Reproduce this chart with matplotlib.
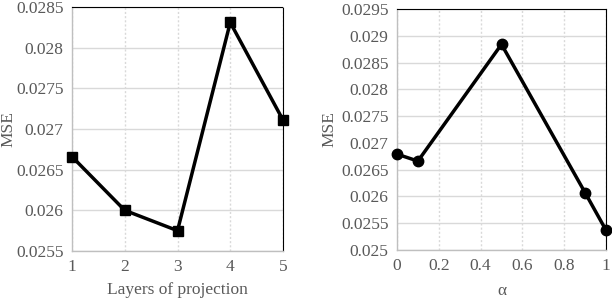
import matplotlib
matplotlib.use("Agg")
import matplotlib.pyplot as plt
from matplotlib.ticker import MultipleLocator, FuncFormatter

layers = [1, 2, 3, 4, 5]
mse_layers = [0.02666, 0.02600, 0.02575, 0.02831, 0.02711]
alpha = [0.0, 0.1, 0.5, 0.9, 1.0]
mse_alpha = [0.02679, 0.02666, 0.02884, 0.02607, 0.02537]

plt.rcParams['font.family'] = ['Liberation Serif', 'DejaVu Serif']
FS = 12.5

fig = plt.figure(figsize=(6.12, 2.98), dpi=100)
W, H = 612, 298
ax1 = fig.add_axes([72 / W, 1 - 251 / H, (283 - 72) / W, (251 - 7) / H])
ax2 = fig.add_axes([397 / W, 1 - 250 / H, (606 - 397) / W, (250 - 9) / H])

def fmt(v, pos):
    s = ('%.4f' % v).rstrip('0').rstrip('.')
    return s

def style(ax):
    ax.grid(axis='y', color='#d9d9d9', linewidth=1.0, linestyle='-')
    ax.grid(axis='x', color='#d9d9d9', linewidth=1.0, linestyle=(0, (1.5, 1.5)))
    ax.set_axisbelow(True)
    for s in ['left', 'bottom']:
        ax.spines[s].set_color('#bfbfbf')
        ax.spines[s].set_linewidth(1.0)
    for s in ['top', 'right']:
        ax.spines[s].set_color('black')
        ax.spines[s].set_linewidth(0.8)
        ax.spines[s].set_linestyle((0, (1, 1)))
    ax.tick_params(length=0, colors='#595959', labelsize=FS, pad=6)
    ax.yaxis.set_major_formatter(FuncFormatter(fmt))

ax1.plot(layers, mse_layers, color='black', linewidth=2.5, marker='s', markersize=7.5, clip_on=False, zorder=3)
ax1.set_xlim(1, 5)
ax1.set_ylim(0.0255, 0.0285)
ax1.yaxis.set_major_locator(MultipleLocator(0.0005))
ax1.xaxis.set_major_locator(MultipleLocator(1))
style(ax1)
ax1.xaxis.set_major_formatter(FuncFormatter(lambda v, p: '%d' % v))
ax1.set_xlabel('Layers of projection', color='#595959', fontsize=FS, labelpad=5)
ax1.set_ylabel('MSE', color='#595959', fontsize=FS)
ax1.yaxis.label.set_va('center')
ax1.yaxis.set_label_coords((8 - 72) / 211, 0.5)

ax2.plot(alpha, mse_alpha, color='black', linewidth=2.5, marker='o', markersize=7.5, clip_on=False, zorder=3)
ax2.set_xlim(0, 1)
ax2.set_ylim(0.025, 0.0295)
ax2.yaxis.set_major_locator(MultipleLocator(0.0005))
ax2.xaxis.set_major_locator(MultipleLocator(0.2))
style(ax2)
ax2.xaxis.set_major_formatter(FuncFormatter(lambda v, p: ('%.1f' % v).rstrip('0').rstrip('.') if v not in (0, 1) else '%d' % round(v)))
ax2.set_xlabel('α', color='#595959', fontsize=FS, labelpad=6)
ax2.set_ylabel('MSE', color='#595959', fontsize=FS)
ax2.yaxis.label.set_va('center')
ax2.yaxis.set_label_coords((329 - 397) / 209, 0.5)

fig.savefig('out.png', dpi=100)
